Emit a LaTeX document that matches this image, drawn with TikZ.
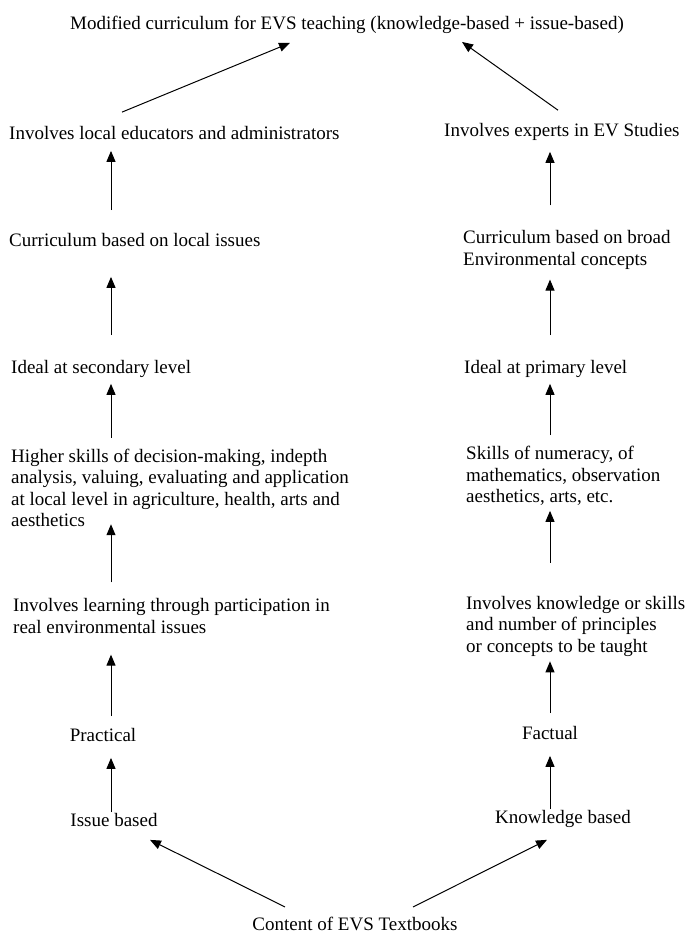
\documentclass[tikz,border=0pt]{standalone}
\usepackage{fontspec}
\setmainfont{Liberation Serif}
\usepackage{tikz}
\usetikzlibrary{arrows.meta}

\tikzset{
	txt/.style = {inner sep = 0 pt, anchor = west, align = left, font = \fontsize{19}{21.5}\selectfont},
	ctr/.style = {txt, anchor = center},
	arr/.style = {line width = 1pt, -{Triangle[length = 11pt, width = 9pt]}}
}

\begin{document}
\begin{tikzpicture}[x = 1pt, y = -1pt]
		\useasboundingbox (0,0) rectangle (686,934);

		\node[ctr] (top) at (347,25){Modified curriculum for EVS teaching (knowledge-based + issue-based)};

		\node[txt] (invL) at (9,133){Involves local educators and administrators};
		\node[txt] (currL) at (9,240){Curriculum based on local issues};
		\node[txt] (idealS) at (11,369){Ideal at secondary level};
		\node[txt] (higher) at (11,488){Higher skills of decision-making, indepth\\analysis, valuing, evaluating and application\\at local level in agriculture, health, arts and\\aesthetics};
		\node[txt] (learn) at (13,616){Involves learning through participation in\\real environmental issues};
		\node[ctr] (prac) at (103,735){Practical};
		\node[ctr] (issue) at (114,820){Issue based};

		\node[txt] (invE) at (444,132){Involves experts in EV Studies};
		\node[txt] (currB) at (463,250){Curriculum based on broad\\Environmental concepts};
		\node[txt] (idealP) at (464,369){Ideal at primary level};
		\node[txt] (skills) at (466,476){Skills of numeracy, of\\mathematics, observation\\aesthetics, arts, etc.};
		\node[txt] (knowl) at (466,626){Involves knowledge or skills\\and number of principles\\or concepts to be taught};
		\node[ctr] (fact) at (550,733){Factual};
		\node[ctr] (kb) at (563,819){Knowledge based};

		\node[ctr] (content) at (355,924){Content of EVS Textbooks};

		\coordinate (colL) at (111,0);
		\coordinate (colR) at (550,0);

		\foreach \a/\b/\c/\s/\e in {
				issue/prac/colL/1/16,
				prac/learn/colL/12/21,
				learn/higher/colL/16/-3,
				higher/idealS/colL/11/6,
				idealS/currL/colL/25/30,
				currL/invL/colL/23/11,
				kb/fact/colR/1/16,
				fact/knowl/colR/13/5,
				knowl/skills/colR/33/5,
				skills/idealP/colR/11/6,
				idealP/currB/colR/25/10,
				currB/invE/colR/25/11
		}{
		\draw[arr, shorten <= \s pt, shorten >= \e pt] (\a.north -| \c) -- (\b.south -| \c);
		}

		\draw[arr] ([xshift=-70pt,yshift=10pt]content.north) -- ([xshift=36pt,yshift=-13pt]issue.south);
		\draw[arr] ([xshift=58pt,yshift=10pt]content.north) -- ([xshift=-16pt,yshift=-12pt]kb.south);
		\draw[arr] ([xshift=113pt,yshift=14pt]invL.north west) -- ([xshift=-57pt,yshift=-9pt]top.south);
		\draw[arr] ([xshift=114pt,yshift=13pt]invE.north west) -- ([xshift=115pt,yshift=-8pt]top.south);
\end{tikzpicture}
\end{document}
